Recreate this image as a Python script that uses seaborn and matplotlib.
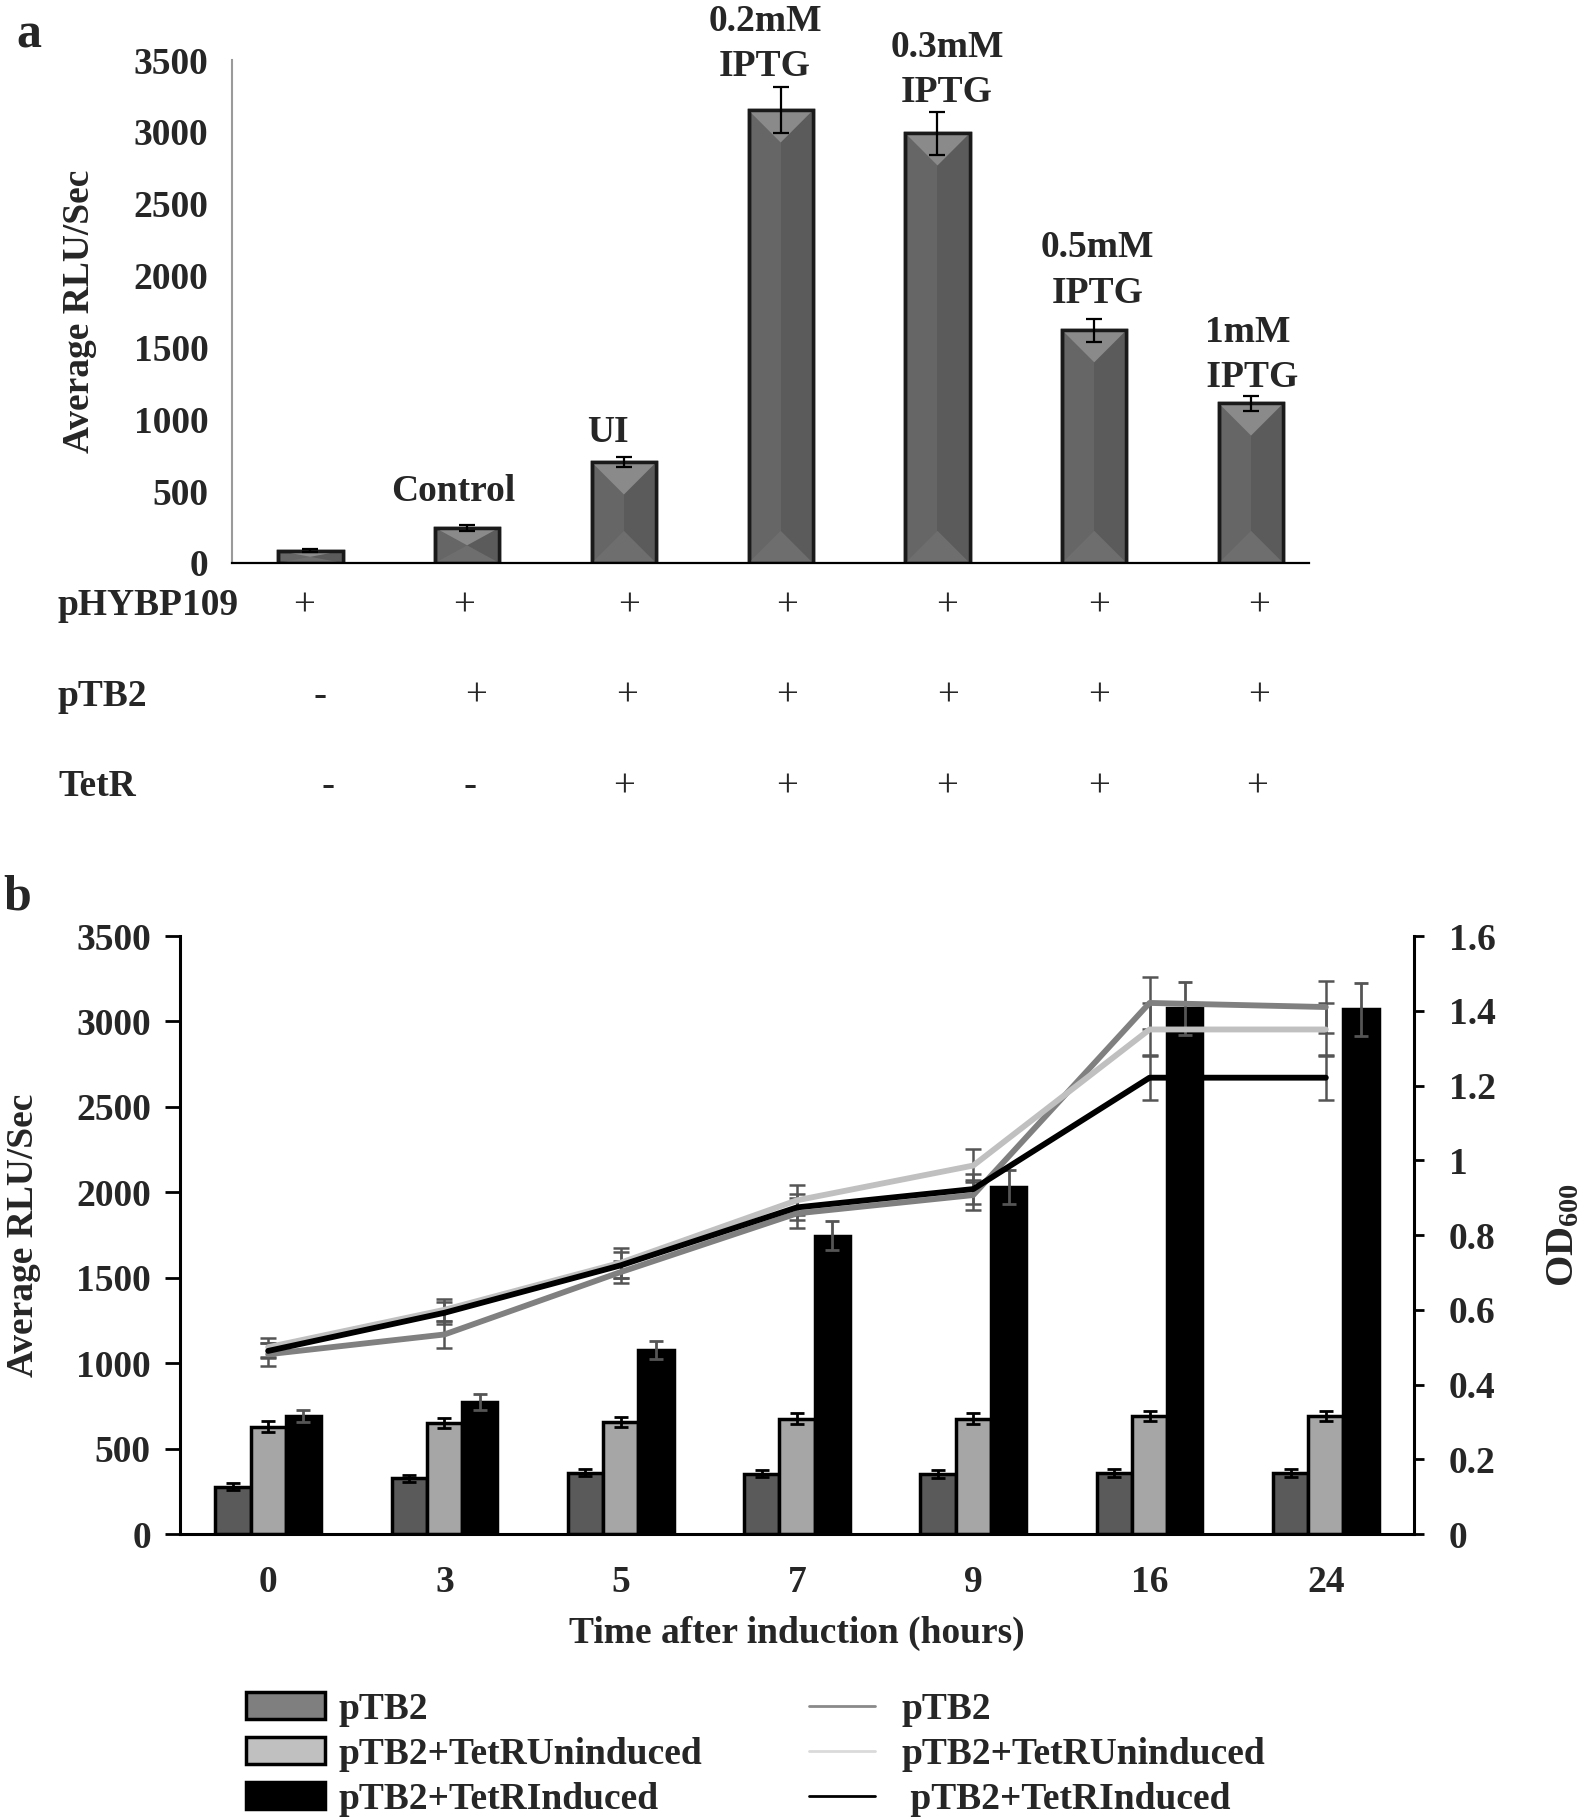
import numpy as np
import pandas as pd
import matplotlib
matplotlib.use("Agg")
import matplotlib.pyplot as plt
import matplotlib.transforms as mtransforms
from matplotlib.patches import Patch, Polygon, Rectangle
from matplotlib.lines import Line2D
import seaborn as sns

# ---------------- Panel a data ----------------
a_labels = ["pHYBP109", "Control", "UI", "0.2mM IPTG", "0.3mM IPTG", "0.5mM IPTG", "1mM IPTG"]
a_values = [85, 245, 700, 3150, 2990, 1620, 1110]
a_errors = [12, 20, 35, 160, 150, 80, 55]
a_annot = ["", "Control", "UI", "0.2mM\nIPTG", "0.3mM\nIPTG", "0.5mM\nIPTG", "1mM\n IPTG"]
a_rows = ["pHYBP109", "pTB2", "TetR"]
a_signs = [["+", "+", "+", "+", "+", "+", "+"],
           ["-", "+", "+", "+", "+", "+", "+"],
           ["-", "-", "+", "+", "+", "+", "+"]]

# ---------------- Panel b data ----------------
times = ["0", "3", "5", "7", "9", "16", "24"]
series = ["pTB2", "pTB2+TetRUninduced", "pTB2+TetRInduced"]
rlu_ptb2 = [278, 326, 359, 354, 352, 357, 357]
rlu_unind = [628, 652, 656, 676, 676, 693, 693]
rlu_ind = [689, 772, 1076, 1746, 2030, 3078, 3071]
rlu_ptb2_err = [20, 22, 22, 22, 22, 22, 22]
rlu_unind_err = [32, 30, 28, 30, 30, 30, 30]
rlu_ind_err = [36, 45, 54, 85, 100, 155, 155]
od_ptb2 = [0.481, 0.534, 0.701, 0.858, 0.907, 1.421, 1.410]
od_unind = [0.500, 0.600, 0.726, 0.893, 0.986, 1.350, 1.350]
od_ind = [0.490, 0.592, 0.719, 0.874, 0.923, 1.221, 1.221]
od_ptb2_err = [0.03, 0.035, 0.03, 0.04, 0.04, 0.07, 0.07]
od_unind_err = [0.025, 0.03, 0.04, 0.04, 0.045, 0.07, 0.07]
od_ind_err = [0.02, 0.03, 0.035, 0.035, 0.04, 0.06, 0.06]

bar_colors = ["#5a5a5a", "#a6a6a6", "#000000"]
line_colors = ["#808080", "#c0c0c0", "#000000"]

sns.set_style("white")
plt.rcParams["font.family"] = ["Liberation Serif", "DejaVu Serif"]
plt.rcParams["font.weight"] = "bold"
plt.rcParams["axes.labelweight"] = "bold"
plt.rcParams["mathtext.fontset"] = "custom"
plt.rcParams["mathtext.rm"] = "Liberation Serif:bold"
plt.rcParams["mathtext.it"] = "Liberation Serif:bold"
plt.rcParams["mathtext.bf"] = "Liberation Serif:bold"

FS = 27
fig = plt.figure(figsize=(15.9, 18.2), dpi=100)

# ================= Panel a =================
axa = fig.add_axes([0.1459, 0.6907, 0.6774, 0.2763])
sns.barplot(x=a_labels, y=a_values, color="#666666", edgecolor="#1a1a1a",
            linewidth=2.5, width=0.41, errorbar=None, ax=axa, saturation=1)
axa.set_ylim(0, 3500)
axa.set_xlim(-0.5, 6.37)

# bevel shading derived from the drawn bars
inv = axa.transData.inverted()
for p in list(axa.patches):
    x0, y0 = p.get_x(), p.get_y()
    w, h = p.get_width(), p.get_height()
    (px0, py0) = axa.transData.transform((x0, y0))
    (px1, py1) = axa.transData.transform((x0 + w, y0 + h))
    half = (px1 - px0) / 2
    pc = px0 + half
    depth = min(half, (py1 - py0) / 2)
    def d(pt):
        return inv.transform(pt)
    axa.add_patch(Polygon([d((pc, py0)), d((px1, py0)), d((px1, py1)), d((pc, py1))],
                          closed=True, facecolor="#5b5b5b", edgecolor="none", zorder=2.1))
    axa.add_patch(Polygon([d((px0, py0)), d((px1, py0)), d((pc, py0 + depth))],
                          closed=True, facecolor="#6e6e6e", edgecolor="none", zorder=2.2))
    axa.add_patch(Polygon([d((px0, py1)), d((px1, py1)), d((pc, py1 - depth))],
                          closed=True, facecolor="#8a8a8a", edgecolor="none", zorder=2.2))
    axa.add_patch(Rectangle((x0, y0), w, h, fill=False, edgecolor="#1a1a1a",
                            linewidth=2.5, zorder=2.3))

xa = np.arange(len(a_values))
axa.errorbar(xa, a_values, yerr=a_errors, fmt="none", ecolor="black",
             elinewidth=1.6, capsize=5.5, capthick=1.6, zorder=5)
axa.set_yticks(np.arange(0, 3501, 500))
axa.set_yticklabels([str(v) for v in range(0, 3501, 500)], fontsize=FS, fontweight="bold")
axa.set_xticks([])
axa.set_xlabel("")
axa.set_ylabel("Average RLU/Sec", fontsize=FS, fontweight="bold", labelpad=26)
for s in ["top", "right"]:
    axa.spines[s].set_visible(False)
axa.spines["left"].set_color("#9a9a9a")
axa.spines["left"].set_linewidth(1.5)
axa.spines["bottom"].set_color("black")
axa.spines["bottom"].set_linewidth(1.6)
axa.spines["bottom"].set_zorder(2.5)
axa.tick_params(axis="y", direction="out", length=9, width=1.5, color="#9a9a9a", pad=8)

# annotation text positions (bar index, y in data units)
annot_pos = [(0, 0), (0.91, 500), (1.9, 905), (2.9, 3610), (4.06, 3430), (5.02, 2035), (5.98, 1445)]
for (px, py), t in zip(annot_pos, a_annot):
    if t:
        axa.text(px, py, t, ha="center", va="center", fontsize=FS, fontweight="bold",
                 clip_on=False, linespacing=1.38)

# sign table (x positions per row in bar-index units)
sign_x = [[-0.04, 0.98, 2.03, 3.04, 4.06, 5.03, 6.05],
          [0.06, 1.06, 2.02, 3.04, 4.07, 5.03, 6.05],
          [0.115, 1.02, 2.0, 3.04, 4.06, 5.03, 6.04]]
trans = mtransforms.blended_transform_factory(axa.transData, fig.transFigure)
row_y = [1 - 606 / 1820, 1 - 696 / 1820, 1 - 787 / 1820]
for r, (lab, signs) in enumerate(zip(a_rows, a_signs)):
    fig.text(58 / 1590, row_y[r], lab, ha="left", va="center", fontsize=FS, fontweight="bold")
    for i, s in enumerate(signs):
        fig.text(sign_x[r][i], row_y[r], s, transform=trans, ha="center", va="center",
                 fontsize=28, fontweight="normal")

fig.text(29 / 1590, 1 - 36 / 1820, "a", fontsize=36, fontweight="bold", ha="center", va="center")

# ================= Panel b =================
axb = fig.add_axes([0.1132, 0.1571, 0.7761, 0.3286])
df_b = pd.DataFrame({
    "time": times * 3,
    "series": np.repeat(series, len(times)),
    "rlu": rlu_ptb2 + rlu_unind + rlu_ind,
})
sns.barplot(data=df_b, x="time", y="rlu", hue="series", order=times, hue_order=series,
            palette=bar_colors, width=0.6, gap=0, edgecolor="black", linewidth=2.5,
            errorbar=None, ax=axb, legend=False, saturation=1)
bar_conts = list(axb.containers)[:3]
errs = [rlu_ptb2_err, rlu_unind_err, rlu_ind_err]
vals = [rlu_ptb2, rlu_unind, rlu_ind]
ecols = ["black", "black", "#555555"]
for k, cont in enumerate(bar_conts):
    cx = [p.get_x() + p.get_width() / 2 for p in cont.patches]
    axb.errorbar(cx, vals[k], yerr=errs[k], fmt="none", ecolor=ecols[k],
                 elinewidth=2, capsize=5, capthick=2, zorder=5)
axb.set_ylim(0, 3500)
axb.set_xlim(-0.5, 6.5)
axb.set_yticks(np.arange(0, 3501, 500))
axb.set_yticklabels([str(v) for v in range(0, 3501, 500)], fontsize=FS, fontweight="bold")
axb.set_xticks(np.arange(7))
axb.set_xticklabels(times, fontsize=FS, fontweight="bold")
axb.set_xticks(np.arange(6) + 0.5, minor=True)
axb.tick_params(axis="x", which="major", length=0, pad=22)
axb.tick_params(axis="x", which="minor", direction="out", length=9, width=1.5, color="black")
axb.tick_params(axis="y", direction="out", length=11, width=2, color="black", pad=10)
axb.set_xlabel("Time after induction (hours)", fontsize=FS, fontweight="bold", labelpad=12)
axb.set_ylabel("Average RLU/Sec", fontsize=FS, fontweight="bold", labelpad=25)
for s in ["top", "right"]:
    axb.spines[s].set_visible(False)
for s in ["left", "bottom"]:
    axb.spines[s].set_color("black")
    axb.spines[s].set_linewidth(2.2)

axr = axb.twinx()
df_l = pd.DataFrame({
    "pos": list(range(7)) * 3,
    "series": np.repeat(series, len(times)),
    "od": od_ptb2 + od_unind + od_ind,
})
line_errs = [od_ptb2_err, od_unind_err, od_ind_err]
line_vals = [od_ptb2, od_unind, od_ind]
for k in range(3):
    axr.errorbar(np.arange(7), line_vals[k], yerr=line_errs[k], fmt="none", ecolor="#555555",
                 elinewidth=1.8, capsize=6, capthick=1.8, zorder=1)
sns.lineplot(data=df_l, x="pos", y="od", hue="series", hue_order=series, palette=line_colors,
             linewidth=4.2, legend=False, ax=axr, sort=False, errorbar=None, zorder=3)
axr.set_ylim(0, 1.6)
axr.set_xlim(-0.5, 6.5)
axr.set_yticks(np.arange(0, 1.61, 0.2))
axr.set_yticklabels(["0", "0.2", "0.4", "0.6", "0.8", "1", "1.2", "1.4", "1.6"],
                    fontsize=FS, fontweight="bold")
axr.set_xlabel("")
axr.set_ylabel(r"OD$_{600}$", fontsize=29, fontweight="bold", labelpad=36)
axr.tick_params(axis="y", direction="out", length=7, width=2, color="black", pad=18)
for s in ["top", "left", "bottom"]:
    axr.spines[s].set_visible(False)
axr.spines["right"].set_color("black")
axr.spines["right"].set_linewidth(2.2)

fig.text(17 / 1590, 1 - 898 / 1820, "b", fontsize=36, fontweight="bold", ha="center", va="center")

# legends
leg_bar_colors = ["#7f7f7f", "#c0c0c0", "#000000"]
bar_handles = [Patch(facecolor=c, edgecolor="black", linewidth=2.5) for c in leg_bar_colors]
leg1 = fig.legend(bar_handles, series, loc="upper left", bbox_to_anchor=(0.155, 0.0705),
                  frameon=False, fontsize=FS, handlelength=2.1, handleheight=0.72,
                  handletextpad=0.35, labelspacing=0.27, borderpad=0, borderaxespad=0)
leg_line_colors = ["#8a8a8a", "#dadada", "#000000"]
line_handles = [Line2D([0], [0], color=c, lw=2) for c in leg_line_colors]
leg2 = fig.legend(line_handles, ["pTB2", "pTB2+TetRUninduced", " pTB2+TetRInduced"],
                  loc="upper left", bbox_to_anchor=(0.509, 0.0705), frameon=False, fontsize=FS,
                  handlelength=1.75, handletextpad=0.7, labelspacing=0.27, borderpad=0,
                  borderaxespad=0)

fig.savefig("out.png", dpi=100)
